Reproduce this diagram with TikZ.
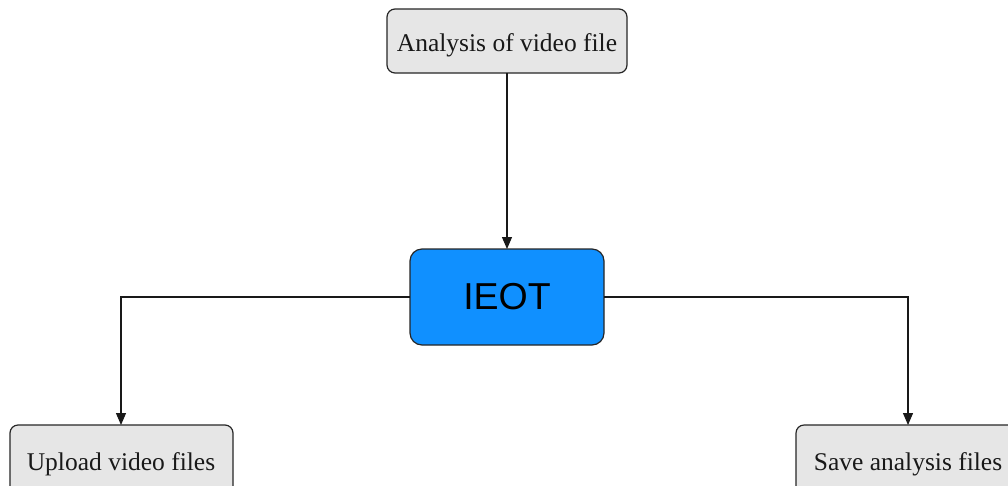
\documentclass[tikz,border=0pt]{standalone}
\usepackage{fontspec}
\setmainfont{Liberation Serif}
\newfontfamily\arialfont{Liberation Sans}
\usetikzlibrary{arrows.meta}
\definecolor{boxgray}{HTML}{E6E6E6}
\definecolor{ieotblue}{HTML}{1090FF}
\tikzset{
  graybox/.style={draw=black!85, line width=1.2pt, fill=boxgray, rounded corners=8pt},
  bluebox/.style={draw=black!85, line width=1.2pt, fill=ieotblue, rounded corners=12pt},
  conn/.style={draw=black!90, line width=1.2pt, -{Triangle[length=12pt,width=10pt]}},
  lbl/.style={font=\fontsize{25.5}{30}\selectfont, text=black!90},
}
\begin{document}
\begin{tikzpicture}[x=1pt,y=-1pt]
\useasboundingbox (0,0) rectangle (1008,485);
\clip (0,0) rectangle (1008,485);
\path[graybox] (387,9) rectangle (627,73);
\node[lbl] (ana) at (507,45.5) {Analysis of video file};
\coordinate (anab) at (507,73);
\path[bluebox] (410,249) rectangle (604,345);
\node[font=\arialfont\fontsize{37.5}{42}\selectfont] (ieot) at (507,297) {IEOT};
\coordinate (ieott) at (507,249);
\coordinate (ieotl) at (410,297);
\coordinate (ieotr) at (604,297);
\path[graybox] (10,425) rectangle (233,495);
\node[lbl] (up) at (121,464) {Upload video files};
\coordinate (upt) at (121,425);
\path[graybox] (796,425) rectangle (1020,495);
\node[lbl] (save) at (908,464) {Save analysis files};
\coordinate (savet) at (908,425);
\draw[conn] (anab) -- (ieott);
\draw[conn] (ieotl) -| (upt);
\draw[conn] (ieotr) -| (savet);
\end{tikzpicture}
\end{document}
